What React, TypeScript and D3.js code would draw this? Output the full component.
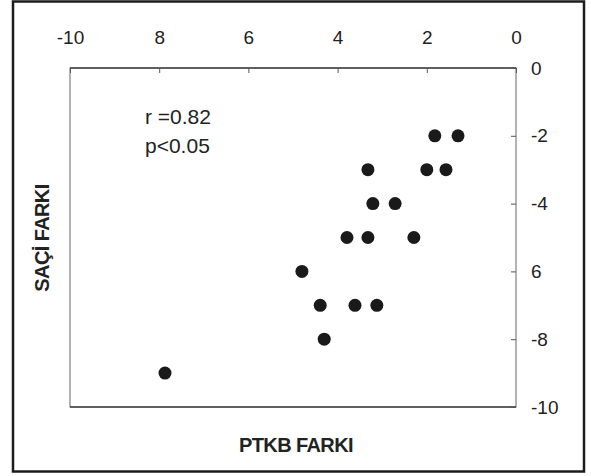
import React, { useRef, useEffect } from 'react';
import * as d3 from 'd3';

// PTKB FARKI (x) vs SAÇİ FARKI (y)
const ptkbDiff = [-1.82, -1.3, -3.32, -2.0, -1.57, -3.21, -2.71, -3.79, -3.32, -2.29, -4.8, -4.39, -3.61, -3.12, -4.3, -7.87];
const saciDiff = [-2, -2, -3, -3, -3, -4, -4, -5, -5, -5, -6, -7, -7, -7, -8, -9];

const xTicks = [-10, -8, -6, -4, -2, 0];
const xTickLabels = ['-10', '8', '6', '4', '2', '0'];
const yTicks = [0, -2, -4, -6, -8, -10];
const yTickLabels = ['0', '-2', '-4', '6', '-8', '-10'];

const WIDTH = 591;
const HEIGHT = 476;
const LEFT = 70;
const RIGHT = 516;
const TOP = 68;
const BOTTOM = 407;
const FONT = '"Liberation Sans", Arial, sans-serif';

function App() {
  const ref = useRef<SVGSVGElement>(null);

  useEffect(() => {
    const svg = d3.select(ref.current);
    svg.selectAll('*').remove();

    const x = d3.scaleLinear().domain([-10, 0]).range([LEFT, RIGHT]);
    const y = d3.scaleLinear().domain([0, -10]).range([TOP, BOTTOM]);

    // outer frame
    svg
      .append('rect')
      .attr('x', 13)
      .attr('y', 1.5)
      .attr('width', 571)
      .attr('height', 470)
      .attr('fill', 'none')
      .attr('stroke', '#1c1c1c')
      .attr('stroke-width', 2.5);

    // plot box
    svg
      .append('rect')
      .attr('x', LEFT)
      .attr('y', TOP)
      .attr('width', RIGHT - LEFT)
      .attr('height', BOTTOM - TOP)
      .attr('fill', 'none')
      .attr('stroke', '#666')
      .attr('stroke-width', 1);
    svg
      .append('line')
      .attr('x1', LEFT)
      .attr('x2', RIGHT)
      .attr('y1', TOP)
      .attr('y2', TOP)
      .attr('stroke', '#444')
      .attr('stroke-width', 1.5);
    svg
      .append('line')
      .attr('x1', LEFT)
      .attr('x2', RIGHT)
      .attr('y1', BOTTOM)
      .attr('y2', BOTTOM)
      .attr('stroke', '#444')
      .attr('stroke-width', 1.5);

    const xAxis = d3
      .axisTop(x)
      .tickValues(xTicks)
      .tickSizeInner(-5)
      .tickSizeOuter(0)
      .tickPadding(24)
      .tickFormat((_, i) => xTickLabels[i]);
    const xg = svg.append('g').attr('transform', `translate(0, ${TOP})`).call(xAxis);
    xg.select('.domain').remove();
    xg.selectAll('line').attr('stroke', '#555');
    xg.selectAll('text').attr('font-family', FONT).attr('font-size', 19).attr('fill', '#222');

    const yAxis = d3
      .axisRight(y)
      .tickValues(yTicks)
      .tickSizeInner(-5)
      .tickSizeOuter(0)
      .tickPadding(15)
      .tickFormat((_, i) => yTickLabels[i]);
    const yg = svg.append('g').attr('transform', `translate(${RIGHT}, 0)`).call(yAxis);
    yg.select('.domain').remove();
    yg.selectAll('line').attr('stroke', '#555');
    yg.selectAll('text').attr('font-family', FONT).attr('font-size', 19).attr('fill', '#222');

    // points
    svg
      .append('g')
      .selectAll('circle')
      .data(ptkbDiff)
      .join('circle')
      .attr('cx', d => x(d))
      .attr('cy', (_, i) => y(saciDiff[i]))
      .attr('r', 6.5)
      .attr('fill', '#1a1a1a');

    // annotation
    const note = svg.append('g').attr('font-family', FONT).attr('font-size', 21).attr('fill', '#222');
    note.append('text').attr('x', 145).attr('y', 124).text('r =0.82');
    note.append('text').attr('x', 145).attr('y', 153).text('p<0.05');

    // axis titles
    svg
      .append('text')
      .attr('x', 296)
      .attr('y', 452)
      .attr('text-anchor', 'middle')
      .attr('font-family', FONT)
      .attr('font-weight', 'bold')
      .attr('font-size', 20)
      .attr('letter-spacing', -0.6)
      .attr('fill', '#222')
      .text('PTKB FARKI');
    svg
      .append('text')
      .attr('transform', 'translate(49, 238) rotate(-90)')
      .attr('text-anchor', 'middle')
      .attr('font-family', FONT)
      .attr('font-weight', 'bold')
      .attr('font-size', 20)
      .attr('letter-spacing', -0.6)
      .attr('fill', '#222')
      .text('SAÇİ FARKI');
  }, []);

  return (
    <svg
      ref={ref}
      width={WIDTH}
      height={HEIGHT}
      style={{ position: 'absolute', left: 0, top: 0, background: '#fff' }}
    ></svg>
  );
}

export default App;
